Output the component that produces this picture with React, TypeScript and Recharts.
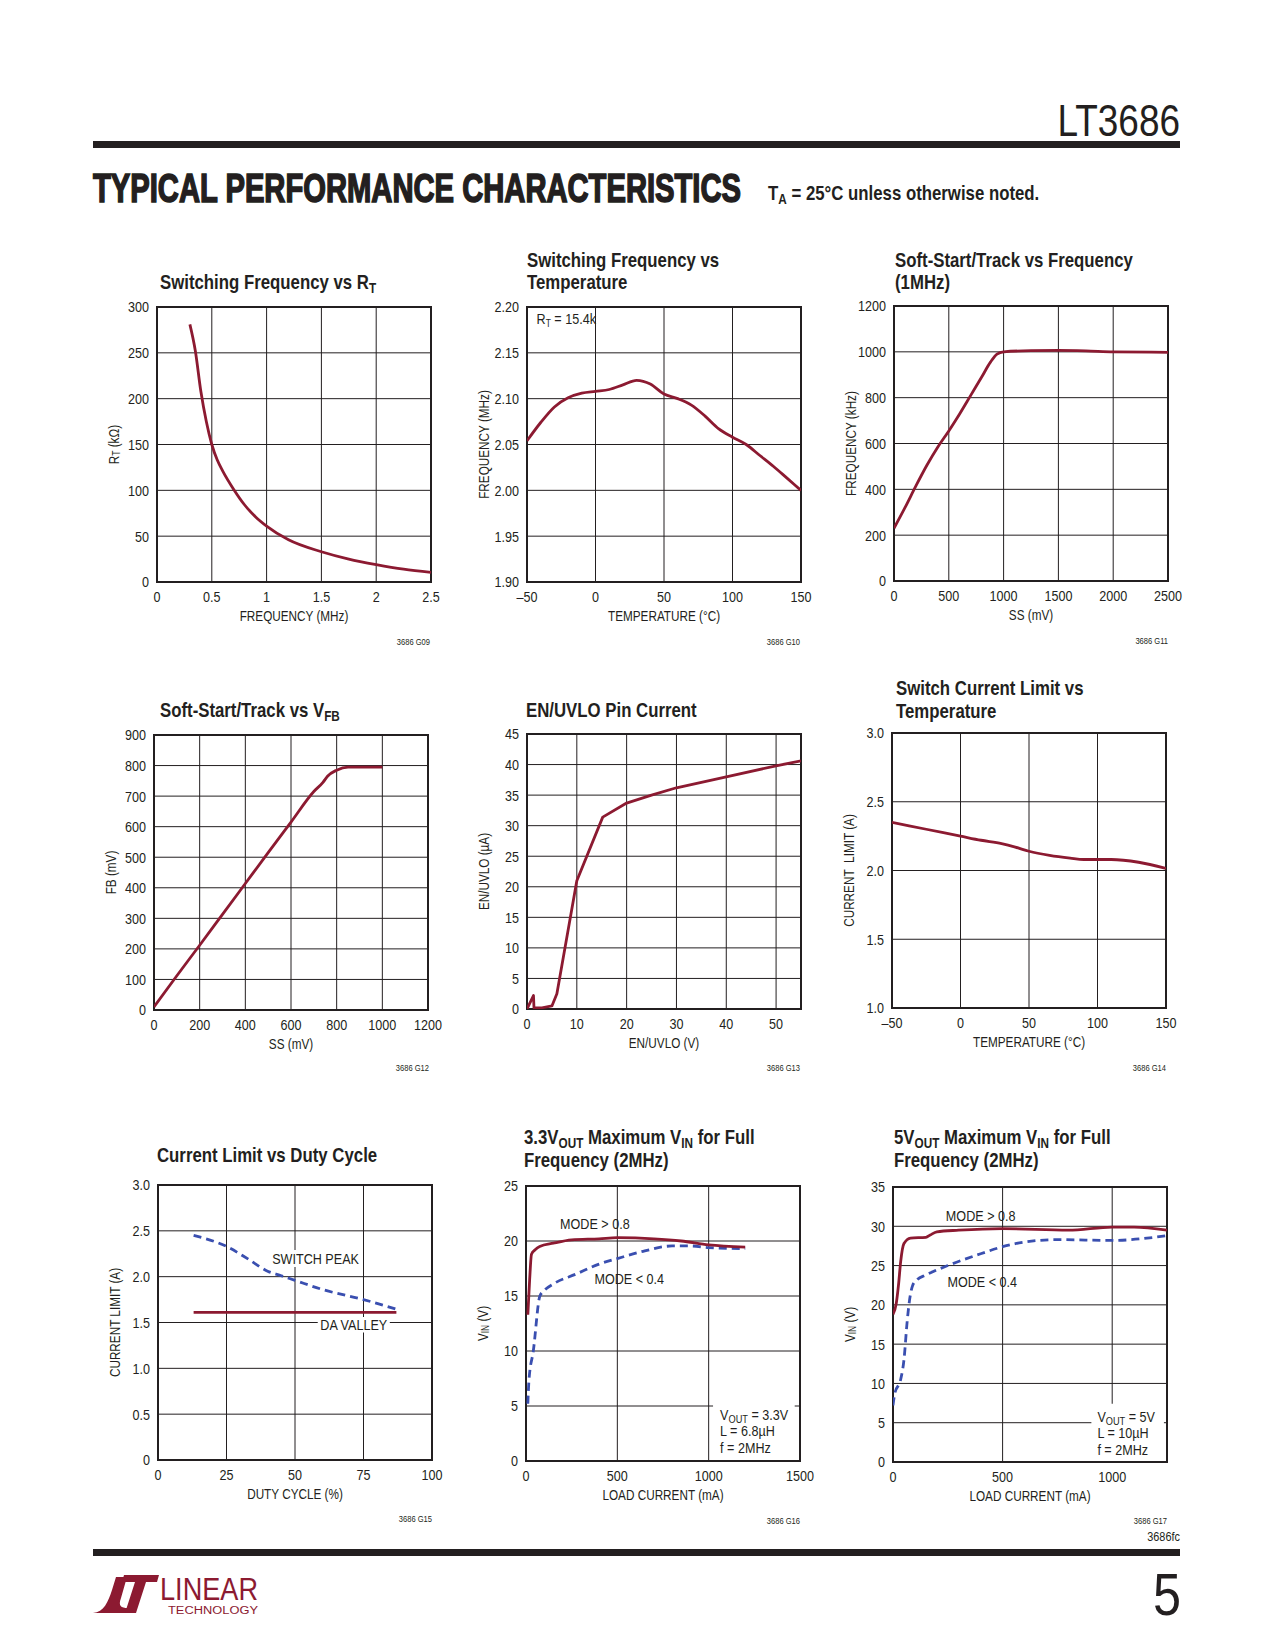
import React from 'react';
import {
  LineChart,
  Line,
  XAxis,
  YAxis,
  CartesianGrid,
  ReferenceArea,
  ReferenceDot,
  Label,
} from 'recharts';

const INK = '#231f20';
const RED = '#8c1a31';
const BLUE = '#3a4fb0';
const FONT = "'Liberation Sans', Arial, sans-serif";
// horizontal squeeze to mimic a condensed face
const SX = 0.84;

// plot frame geometry (px)
const PLOT_W = 274;
const PLOT_H = 275;
const AXIS_W = 70;
const PAD_TOP = 12;
const PAD_RIGHT = 30;
const AXIS_H = 50;

// G09 switching frequency vs RT
const rtFreq = [0.3, 0.35, 0.4, 0.45, 0.5, 0.55, 0.6, 0.7, 0.8, 0.9, 1.0, 1.2, 1.5, 1.75, 2.0, 2.25, 2.5];
const rtKohm = [281, 252, 208, 175, 150, 133, 121, 101, 84, 71, 61, 46, 33, 25, 19, 14, 10.5];

// G10 switching frequency vs temperature
const tempG10 = [-50, -40, -30, -20, -10, 0, 10, 20, 30, 40, 50, 60, 70, 80, 90, 100, 110, 120, 130, 140, 150];
const freqG10 = [2.054, 2.074, 2.091, 2.101, 2.106, 2.108, 2.11, 2.115, 2.12, 2.116, 2.105, 2.1, 2.093, 2.081, 2.067, 2.058, 2.05, 2.038, 2.026, 2.013, 2.0];

// G11 soft-start vs frequency
const ssG11 = [0, 100, 200, 300, 400, 500, 600, 700, 800, 880, 940, 1000, 1250, 1500, 1750, 2000, 2500];
const freqG11 = [230, 320, 415, 505, 585, 655, 730, 810, 890, 955, 990, 1000, 1005, 1006, 1004, 1000, 998];

// G12 soft-start vs VFB
const ssG12 = [0, 100, 200, 300, 400, 500, 600, 700, 740, 760, 800, 850, 1000];
const fbG12 = [10, 112, 212, 313, 414, 515, 615, 715, 745, 765, 785, 795, 795];

// G13 EN/UVLO pin current
const vEn = [0, 1.3, 1.4, 3, 5, 6, 10, 15.2, 20, 25, 30, 40, 50, 55];
const iEn = [0, 2.2, 0.2, 0.2, 0.5, 2.5, 21, 31.4, 33.7, 35, 36.2, 38, 39.8, 40.6];

// G14 switch current limit vs temperature
const tempG14 = [-50, -25, 0, 15, 30, 40, 50, 65, 80, 90, 110, 130, 150];
const ilimG14 = [2.35, 2.3, 2.25, 2.22, 2.195, 2.17, 2.14, 2.11, 2.09, 2.08, 2.08, 2.06, 2.015];

// G15 current limit vs duty cycle
const dutyPeak = [13, 25, 33, 40, 45, 50, 60, 75, 87];
const peakAmps = [2.45, 2.33, 2.19, 2.06, 2.01, 1.96, 1.86, 1.75, 1.645];
const dutyValley = [13, 87];
const valleyAmps = [1.61, 1.61];

// G16 3.3VOUT maximum VIN
const loadG16Hi = [10, 20, 30, 50, 75, 150, 250, 400, 500, 700, 850, 1000, 1200];
const vinG16Hi = [13.3, 16.5, 18.8, 19.2, 19.5, 19.8, 20.1, 20.2, 20.3, 20.2, 20.0, 19.65, 19.45];
const loadG16Lo = [10, 16, 40, 76, 100, 150, 275, 400, 500, 650, 800, 900, 1000, 1200];
const vinG16Lo = [5.2, 7.3, 10.0, 15.0, 15.5, 16.1, 17.0, 17.9, 18.4, 19.1, 19.55, 19.55, 19.4, 19.3];

// G17 5VOUT maximum VIN
const loadG17Hi = [0, 15, 25, 35, 50, 80, 150, 170, 200, 300, 500, 800, 1000, 1100, 1250];
const vinG17Hi = [18.8, 20.2, 22.5, 25.5, 27.8, 28.5, 28.6, 28.9, 29.3, 29.5, 29.7, 29.5, 29.9, 29.9, 29.5];
const loadG17Lo = [0, 8, 35, 50, 65, 75, 90, 110, 150, 250, 400, 500, 600, 750, 1000, 1250];
const vinG17Lo = [7.2, 8.7, 10.5, 13, 18, 20.5, 22.5, 23.2, 23.8, 25.0, 26.5, 27.4, 28.0, 28.3, 28.2, 28.8];

const zip = (xs: number[], ys: number[]) => xs.map((x, i) => ({ x, y: ys[i] }));
const dash = (v: number) => (v < 0 ? `\u2013${Math.abs(v)}` : `${v}`);

const sub = (base: string, s: string, rest: string, fs: number, shift: number) => (
  <>
    {base}
    <tspan fontSize={fs} dy={shift}>{s}</tspan>
    <tspan dy={-shift}>{rest}</tspan>
  </>
);

const xTick = (fmt?: (v: number) => string) => (props: any) => {
  const v = props.payload?.value;
  return (
    <g transform={`translate(${props.x},${props.y})`}>
      <text transform={`scale(${SX},1)`} textAnchor="middle" dy="0.71em" fontSize={15} fill={INK}>
        {fmt ? fmt(v) : String(v)}
      </text>
    </g>
  );
};

const yTick = (fmt?: (v: number) => string) => (props: any) => {
  const v = props.payload?.value;
  return (
    <g transform={`translate(${props.x},${props.y})`}>
      <text transform={`scale(${SX},1)`} textAnchor="end" dy="0.36em" fontSize={15} fill={INK}>
        {fmt ? fmt(v) : String(v)}
      </text>
    </g>
  );
};

const xTitleContent = (title: React.ReactNode) => (props: any) => {
  const vb = props.viewBox || { x: 0, y: 0, width: 0 };
  return (
    <g transform={`translate(${vb.x + vb.width / 2},${vb.y + 39}) scale(${SX},1)`}>
      <text x={0} y={0} textAnchor="middle" fontSize={14} fill={INK}>
        {title}
      </text>
    </g>
  );
};

const yTitleContent = (title: React.ReactNode) => (props: any) => {
  const vb = props.viewBox || { x: 0, y: 0, width: 0, height: 0 };
  const cx = vb.x + vb.width - 43;
  const cy = vb.y + vb.height / 2;
  return (
    <g transform={`translate(${cx},${cy}) rotate(-90) scale(${SX},1)`}>
      <text x={0} y={0} textAnchor="middle" dominantBaseline="central" fontSize={14} fill={INK}>
        {title}
      </text>
    </g>
  );
};

// text note anchored on a reference element
const note = (lines: React.ReactNode[], anchor: 'start' | 'middle' = 'middle', dx = 0, dy = 0) => (props: any) => {
  const vb = props.viewBox || { x: 0, y: 0, width: 0, height: 0 };
  const x0 = anchor === 'middle' ? vb.x + vb.width / 2 : vb.x + dx;
  const y0 = anchor === 'middle' ? vb.y + vb.height / 2 : vb.y + dy;
  return (
    <g transform={`translate(${x0},${y0}) scale(${SX},1)`}>
      <text x={0} y={0} fill={INK} fontSize={15} textAnchor={anchor} dominantBaseline={anchor === 'middle' ? 'central' : 'alphabetic'}>
        {lines.map((l, i) => (
          <tspan key={i} x={0} dy={i === 0 ? 0 : 16.5}>
            {l}
          </tspan>
        ))}
      </text>
    </g>
  );
};

interface PanelProps {
  left: number;
  top: number;
  xDomain: [number, number];
  xTicks: number[];
  xFmt?: (v: number) => string;
  yDomain: [number, number];
  yTicks: number[];
  yFmt?: (v: number) => string;
  xTitle: React.ReactNode;
  yTitle: React.ReactNode;
  children?: React.ReactNode;
}

function Panel({ left, top, xDomain, xTicks, xFmt, yDomain, yTicks, yFmt, xTitle, yTitle, children }: PanelProps) {
  return (
    <div style={{ position: 'absolute', left: left - AXIS_W, top: top - PAD_TOP }}>
      <LineChart
        width={AXIS_W + PLOT_W + PAD_RIGHT}
        height={PAD_TOP + PLOT_H + AXIS_H}
        margin={{ top: PAD_TOP, right: PAD_RIGHT, bottom: 0, left: 0 }}
      >
        <CartesianGrid stroke={INK} strokeWidth={1} />
        <XAxis
          type="number"
          dataKey="x"
          domain={xDomain}
          ticks={xTicks}
          interval={0}
          allowDataOverflow
          axisLine={false}
          tickLine={false}
          tickSize={4}
          tickMargin={5}
          height={AXIS_H}
          tick={xTick(xFmt)}
        >
          <Label content={xTitleContent(xTitle)} />
        </XAxis>
        <YAxis
          type="number"
          dataKey="y"
          domain={yDomain}
          ticks={yTicks}
          interval={0}
          allowDataOverflow
          axisLine={false}
          tickLine={false}
          tickSize={4}
          tickMargin={4}
          width={AXIS_W}
          tick={yTick(yFmt)}
        >
          <Label content={yTitleContent(yTitle)} />
        </YAxis>
        {children}
        <ReferenceArea
          x1={xDomain[0]}
          x2={xDomain[1]}
          y1={yDomain[0]}
          y2={yDomain[1]}
          fill="none"
          stroke={INK}
          strokeWidth={2}
          ifOverflow="visible"
        />
      </LineChart>
    </div>
  );
}

const solid = (data: { x: number; y: number }[], type: 'monotone' | 'linear' = 'monotone') => (
  <Line
    data={data}
    dataKey="y"
    type={type}
    stroke={RED}
    strokeWidth={2.8}
    dot={false}
    isAnimationActive={false}
    strokeLinejoin="round"
  />
);

const dashed = (data: { x: number; y: number }[]) => (
  <Line
    data={data}
    dataKey="y"
    type="monotone"
    stroke={BLUE}
    strokeWidth={2.8}
    strokeDasharray="8 5"
    dot={false}
    isAnimationActive={false}
  />
);

function PageText() {
  const t = (x: number, y: number, s: React.ReactNode, key: string) => (
    <g key={key} transform={`translate(${x},${y}) scale(${SX},1)`}>
      <text x={0} y={0} fontSize={20} fontWeight="bold" fill={INK}>
        {s}
      </text>
    </g>
  );
  const foot = (x: number, y: number, s: string) => (
    <g key={s} transform={`translate(${x},${y}) scale(${SX},1)`}>
      <text x={0} y={0} fontSize={9} fill={INK} textAnchor="end">
        {s}
      </text>
    </g>
  );
  return (
    <svg width={1275} height={1650} style={{ position: 'absolute', left: 0, top: 0 }} fontFamily={FONT}>
      {/* header */}
      <g transform={`translate(1180,136) scale(${SX},1)`}>
        <text x={0} y={0} fontSize={44} fill={INK} textAnchor="end">LT3686</text>
      </g>
      <rect x={93} y={141} width={1087} height={7} fill={INK} />
      <g transform="translate(93,202) scale(0.73,1)">
        <text x={0} y={0} fontSize={40} fontWeight="bold" fill={INK} stroke={INK} strokeWidth={1.6}>
          TYPICAL PERFORMANCE CHARACTERISTICS
        </text>
      </g>
      <g transform={`translate(768,200) scale(${SX},1)`}>
        <text x={0} y={0} fontSize={20} fontWeight="bold" fill={INK}>
          {sub('T', 'A', ' = 25°C unless otherwise noted.', 14, 4)}
        </text>
      </g>

      {/* chart titles */}
      {t(160, 289, sub('Switching Frequency vs R', 'T', '', 14, 4), 'c1')}
      {t(527, 267, 'Switching Frequency vs', 'c2a')}
      {t(527, 289, 'Temperature', 'c2b')}
      {t(895, 267, 'Soft-Start/Track vs Frequency', 'c3a')}
      {t(895, 289, '(1MHz)', 'c3b')}
      {t(160, 717, sub('Soft-Start/Track vs V', 'FB', '', 14, 4), 'c4')}
      {t(526, 717, 'EN/UVLO Pin Current', 'c5')}
      {t(896, 695, 'Switch Current Limit vs', 'c6a')}
      {t(896, 718, 'Temperature', 'c6b')}
      {t(157, 1162, 'Current Limit vs Duty Cycle', 'c7')}
      {t(
        524,
        1144,
        <>
          3.3V<tspan fontSize={14} dy={4}>OUT</tspan>
          <tspan dy={-4}> Maximum V</tspan>
          <tspan fontSize={14} dy={4}>IN</tspan>
          <tspan dy={-4}> for Full</tspan>
        </>,
        'c8a'
      )}
      {t(524, 1167, 'Frequency (2MHz)', 'c8b')}
      {t(
        894,
        1144,
        <>
          5V<tspan fontSize={14} dy={4}>OUT</tspan>
          <tspan dy={-4}> Maximum V</tspan>
          <tspan fontSize={14} dy={4}>IN</tspan>
          <tspan dy={-4}> for Full</tspan>
        </>,
        'c9a'
      )}
      {t(894, 1167, 'Frequency (2MHz)', 'c9b')}

      {/* figure numbers */}
      {foot(430, 645, '3686 G09')}
      {foot(800, 645, '3686 G10')}
      {foot(1168, 644, '3686 G11')}
      {foot(429, 1071, '3686 G12')}
      {foot(800, 1071, '3686 G13')}
      {foot(1166, 1071, '3686 G14')}
      {foot(432, 1522, '3686 G15')}
      {foot(800, 1524, '3686 G16')}
      {foot(1167, 1524, '3686 G17')}

      {/* footer */}
      <g transform={`translate(1180,1541) scale(${SX},1)`}>
        <text x={0} y={0} fontSize={13} fill={INK} textAnchor="end">3686fc</text>
      </g>
      <rect x={93} y={1549} width={1087} height={7} fill={INK} />
      <g transform={`translate(1181,1615) scale(${SX},1)`}>
        <text x={0} y={0} fontSize={60} fill={INK} textAnchor="end">5</text>
      </g>
      <path d="M93,1613 C104,1612 108,1602 112,1590 L116,1577 L127,1577 L121,1598 C118,1606 121,1608 128,1608 L126,1613 Z" fill={RED} />
      <path d="M124,1575 L159,1575 L157,1582 L146,1582 L136,1613 L125,1613 L135,1582 L122,1582 Z" fill={RED} />
      <text x={160} y={1600} fontSize={32} fill={RED} textLength={98} lengthAdjust="spacingAndGlyphs">LINEAR</text>
      <text x={168} y={1614} fontSize={10} fill={RED} textLength={90} lengthAdjust="spacingAndGlyphs">TECHNOLOGY</text>
    </svg>
  );
}

export default function App() {
  return (
    <div style={{ position: 'absolute', left: 0, top: 0, width: 1275, height: 1650, background: '#fff', fontFamily: FONT, color: INK }}>
      <PageText />

      <Panel
        left={157}
        top={307}
        xDomain={[0, 2.5]}
        xTicks={[0, 0.5, 1, 1.5, 2, 2.5]}
        yDomain={[0, 300]}
        yTicks={[0, 50, 100, 150, 200, 250, 300]}
        xTitle="FREQUENCY (MHz)"
        yTitle={sub('R', 'T', ' (kΩ)', 10, 3)}
      >
        {solid(zip(rtFreq, rtKohm))}
      </Panel>

      <Panel
        left={527}
        top={307}
        xDomain={[-50, 150]}
        xTicks={[-50, 0, 50, 100, 150]}
        xFmt={dash}
        yDomain={[1.9, 2.2]}
        yTicks={[1.9, 1.95, 2.0, 2.05, 2.1, 2.15, 2.2]}
        yFmt={(v) => v.toFixed(2)}
        xTitle="TEMPERATURE (°C)"
        yTitle="FREQUENCY (MHz)"
      >
        {solid(zip(tempG10, freqG10))}
        <ReferenceDot x={-43} y={2.182} r={0} fill="none" stroke="none" label={note([sub('R', 'T', ' = 15.4k', 10, 3)], 'start')} />
      </Panel>

      <Panel
        left={894}
        top={306}
        xDomain={[0, 2500]}
        xTicks={[0, 500, 1000, 1500, 2000, 2500]}
        yDomain={[0, 1200]}
        yTicks={[0, 200, 400, 600, 800, 1000, 1200]}
        xTitle="SS (mV)"
        yTitle="FREQUENCY (kHz)"
      >
        {solid(zip(ssG11, freqG11))}
      </Panel>

      <Panel
        left={154}
        top={735}
        xDomain={[0, 1200]}
        xTicks={[0, 200, 400, 600, 800, 1000, 1200]}
        yDomain={[0, 900]}
        yTicks={[0, 100, 200, 300, 400, 500, 600, 700, 800, 900]}
        xTitle="SS (mV)"
        yTitle="FB (mV)"
      >
        {solid(zip(ssG12, fbG12))}
      </Panel>

      <Panel
        left={527}
        top={734}
        xDomain={[0, 55]}
        xTicks={[0, 10, 20, 30, 40, 50]}
        yDomain={[0, 45]}
        yTicks={[0, 5, 10, 15, 20, 25, 30, 35, 40, 45]}
        xTitle="EN/UVLO (V)"
        yTitle="EN/UVLO (µA)"
      >
        {solid(zip(vEn, iEn), 'linear')}
      </Panel>

      <Panel
        left={892}
        top={733}
        xDomain={[-50, 150]}
        xTicks={[-50, 0, 50, 100, 150]}
        xFmt={dash}
        yDomain={[1, 3]}
        yTicks={[1, 1.5, 2, 2.5, 3]}
        yFmt={(v) => v.toFixed(1)}
        xTitle="TEMPERATURE (°C)"
        yTitle={'CURRENT\u00a0 LIMIT (A)'}
      >
        {solid(zip(tempG14, ilimG14))}
      </Panel>

      <Panel
        left={158}
        top={1185}
        xDomain={[0, 100]}
        xTicks={[0, 25, 50, 75, 100]}
        yDomain={[0, 3]}
        yTicks={[0, 0.5, 1, 1.5, 2, 2.5, 3]}
        yFmt={(v) => (v === 0 ? '0' : v.toFixed(1))}
        xTitle="DUTY CYCLE (%)"
        yTitle="CURRENT LIMIT (A)"
      >
        <ReferenceArea x1={42} x2={73} y1={2.105} y2={2.29} fill="#fff" fillOpacity={1} stroke="none" label={note(['SWITCH PEAK'])} />
        <ReferenceArea x1={58.3} x2={84.6} y1={1.39} y2={1.56} fill="#fff" fillOpacity={1} stroke="none" label={note(['DA VALLEY'])} />
        {solid(zip(dutyValley, valleyAmps), 'linear')}
        {dashed(zip(dutyPeak, peakAmps))}
      </Panel>

      <Panel
        left={526}
        top={1186}
        xDomain={[0, 1500]}
        xTicks={[0, 500, 1000, 1500]}
        yDomain={[0, 25]}
        yTicks={[0, 5, 10, 15, 20, 25]}
        xTitle="LOAD CURRENT (mA)"
        yTitle={sub('V', 'IN', ' (V)', 10, 3)}
      >
        <ReferenceArea
          x1={1024}
          x2={1471}
          y1={0}
          y2={5.3}
          fill="#fff"
          fillOpacity={1}
          stroke="none"
          label={note([sub('V', 'OUT', ' = 3.3V', 11, 3), 'L = 6.8µH', 'f = 2MHz'], 'start', 7, 17)}
        />
        <ReferenceDot x={377} y={21.6} r={0} fill="none" stroke="none" label={note(['MODE > 0.8'])} />
        <ReferenceDot x={565} y={16.6} r={0} fill="none" stroke="none" label={note(['MODE < 0.4'])} />
        {dashed(zip(loadG16Lo, vinG16Lo))}
        {solid(zip(loadG16Hi, vinG16Hi))}
      </Panel>

      <Panel
        left={893}
        top={1187}
        xDomain={[0, 1250]}
        xTicks={[0, 500, 1000]}
        yDomain={[0, 35]}
        yTicks={[0, 5, 10, 15, 20, 25, 30, 35]}
        xTitle="LOAD CURRENT (mA)"
        yTitle={sub('V', 'IN', ' (V)', 10, 3)}
      >
        <ReferenceArea
          x1={905}
          x2={1236}
          y1={0}
          y2={7.4}
          fill="#fff"
          fillOpacity={1}
          stroke="none"
          label={note([sub('V', 'OUT', ' = 5V', 11, 3), 'L = 10µH', 'f = 2MHz'], 'start', 6, 18)}
        />
        <ReferenceDot x={400} y={31.4} r={0} fill="none" stroke="none" label={note(['MODE > 0.8'])} />
        <ReferenceDot x={407} y={23.0} r={0} fill="none" stroke="none" label={note(['MODE < 0.4'])} />
        {dashed(zip(loadG17Lo, vinG17Lo))}
        {solid(zip(loadG17Hi, vinG17Hi))}
      </Panel>
    </div>
  );
}
